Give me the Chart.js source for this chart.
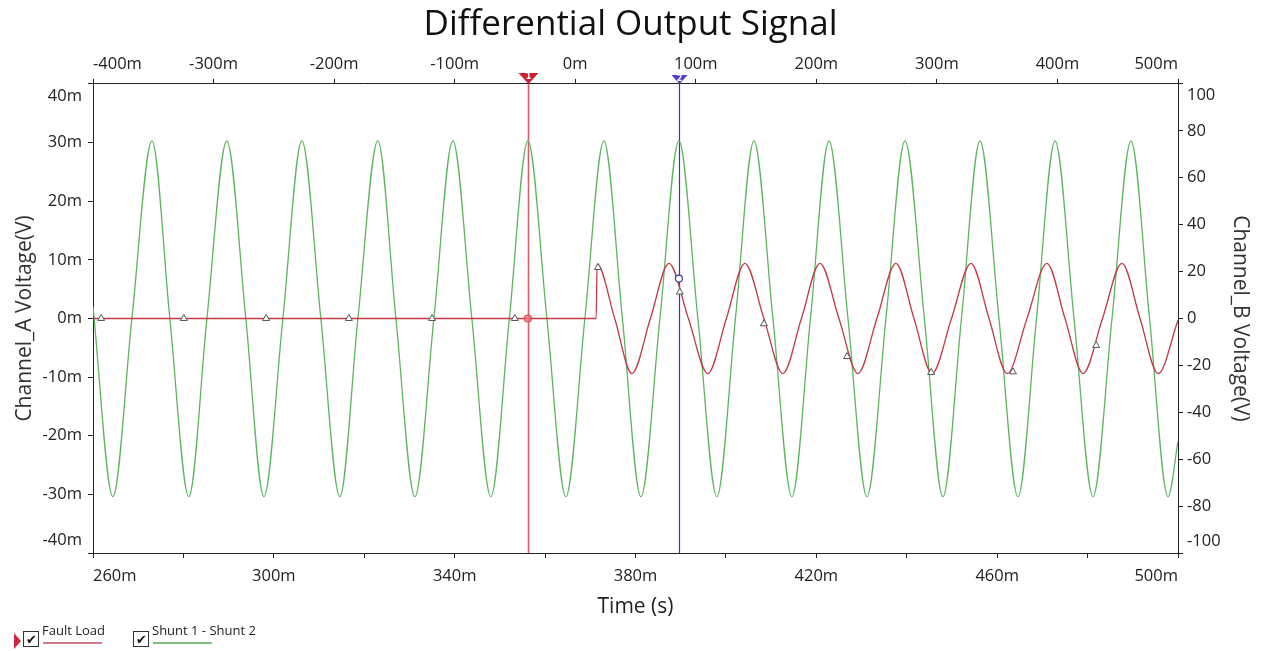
<!DOCTYPE html>
<html>
<head>
<meta charset="utf-8">
<title>Differential Output Signal</title>
<script src="https://cdn.jsdelivr.net/npm/chart.js@4.4.1/dist/chart.umd.min.js"></script>
<style>
  html, body { margin: 0; padding: 0; background: #fff; }
  #wrap { position: relative; width: 1261px; height: 651px; font-family: "Open Sans", sans-serif; }
  .lg-text { position: absolute; font-size: 13px; color: #222; line-height: 16px; white-space: nowrap; }
  .lg-box { position: absolute; width: 14px; height: 14px; border: 1px solid #333; background: #fff;
            font-size: 13px; line-height: 14px; text-align: center; color: #111; }
  .lg-line { position: absolute; height: 2px; }
</style>
</head>
<body>
<div id="wrap">
  <canvas id="scope"></canvas>
  <div style="position:absolute;left:14px;top:633px;width:0;height:0;border-top:8px solid transparent;border-bottom:8px solid transparent;border-left:7px solid #d0283c;"></div>
  <div class="lg-box" style="left:23px;top:631px;">✔</div>
  <div class="lg-text" style="left:42px;top:622px;">Fault Load</div>
  <div class="lg-line" style="left:43px;top:642px;width:59px;background:#d07a84;"></div>
  <div class="lg-box" style="left:133px;top:631px;">✔</div>
  <div class="lg-text" style="left:152px;top:622px;">Shunt 1 - Shunt 2</div>
  <div class="lg-line" style="left:153px;top:642px;width:59px;background:#7cc47c;"></div>
</div>
<script>
// Shunt 1 - Shunt 2 : peaks, troughs and zero crossings (time in ms, volts in mV)
const greenTimes = [260, 264.4, 268.6, 273.05, 277.0, 281.2, 285.2, 289.6, 293.8, 297.8, 302.0, 306.2,
  310.4, 314.6, 318.6, 323.0, 327.0, 331.2, 335.4, 339.6, 343.8, 348.0, 352.1, 356.2, 360.4, 364.6,
  368.8, 373.0, 377.1, 381.2, 385.4, 389.6, 393.8, 398.0, 402.1, 406.2, 410.4, 414.6, 418.7, 422.8,
  427.0, 431.2, 435.4, 439.6, 443.9, 448.0, 452.1, 456.2, 460.4, 464.6, 468.7, 472.8, 477.0, 481.2,
  485.4, 489.6, 493.7, 497.8, 500];
const greenValues = [2, -30.4, 0, 30.3, 0, -30.4, 0, 30.3, 0, -30.4, 0, 30.3,
  0, -30.4, 0, 30.3, 0, -30.4, 0, 30.3, 0, -30.4, 0, 30.3, 0, -30.4,
  0, 30.3, 0, -30.4, 0, 30.3, 0, -30.4, 0, 30.3, 0, -30.4, 0, 30.3,
  0, -30.4, 0, 30.3, 0, -30.4, 0, 30.3, 0, -30.4, 0, 30.3, 0, -30.4,
  0, 30.3, 0, -30.4, -21];

// Fault Load : flat until the fault, then a smaller 60 Hz wave
const redTimes = [260, 371.3, 371.5, 375.4, 379.2, 383.3, 387.4, 391.7, 396.0, 400.1, 404.2, 408.4,
  412.6, 416.7, 420.8, 425.0, 429.2, 433.4, 437.6, 441.6, 445.6, 449.9, 454.2, 458.2, 462.2, 466.6,
  471.0, 475.0, 479.0, 483.3, 487.6, 491.6, 495.6, 500];
const redValues = [0, 0, 9.3, 0, -9.4, 0, 9.4, 0, -9.4, 0, 9.4, 0,
  -9.4, 0, 9.4, 0, -9.4, 0, 9.4, 0, -9.4, 0, 9.4, 0, -9.4, 0,
  9.4, 0, -9.4, 0, 9.4, 0, -9.4, -0.3];

// sample markers drawn on the Fault Load trace
const markerTimes = [261.8, 280.1, 298.3, 316.6, 335.0, 353.3, 371.7, 389.8, 408.4, 426.8, 445.4, 463.5, 481.9];
const markerValues = [0, 0, 0, 0, 0, 0, 8.7, 4.5, -0.9, -6.5, -9.2, -9.1, -4.6];

// cursors
const cursorTimes = [356.2, 389.6];
const cursorNames = ['1', '2'];
const cursorColors = ['rgb(214,96,108)', 'rgb(60,56,176)'];
const cursorHeadColors = ['rgb(204,32,52)', 'rgb(76,60,205)'];
const readoutValues = [0, 6.8];

const pts = (xs, ys) => xs.map((t, i) => ({ x: t, y: ys[i] }));
const milli = v => Math.round(v) + 'm';

const tickFont = { family: 'Open Sans', size: 16.5 };
const titleFont = { family: 'Open Sans', size: 21 };

const cursorPlugin = {
    id: 'cursors',
    beforeDatasetsDraw(chart) {
        const { ctx, chartArea } = chart;
        const xs = chart.scales.x;
        ctx.save();
        cursorTimes.forEach((t, i) => {
            const px = Math.round(xs.getPixelForValue(t)) + 0.5;
            ctx.strokeStyle = cursorColors[i];
            ctx.lineWidth = i === 0 ? 1.6 : 1.2;
            ctx.beginPath();
            ctx.moveTo(px, chartArea.top);
            ctx.lineTo(px, chartArea.bottom);
            ctx.stroke();
        });
        ctx.restore();
    },
    afterDraw(chart) {
        const { ctx, chartArea } = chart;
        const xs = chart.scales.x;
        ctx.save();
        cursorTimes.forEach((t, i) => {
            const px = Math.round(xs.getPixelForValue(t)) + 0.5;
            const w = i === 0 ? 10 : 8;
            const h = i === 0 ? 11 : 9;
            ctx.fillStyle = cursorHeadColors[i];
            ctx.beginPath();
            ctx.moveTo(px - w, chartArea.top - h);
            ctx.lineTo(px + w, chartArea.top - h);
            ctx.lineTo(px, chartArea.top);
            ctx.closePath();
            ctx.fill();
            ctx.fillStyle = '#fff';
            ctx.font = 'bold 8px "DejaVu Sans"';
            ctx.textAlign = 'center';
            ctx.textBaseline = 'middle';
            ctx.fillText(cursorNames[i], px, chartArea.top - h + 4);
        });
        ctx.restore();
    }
};

new Chart(document.getElementById('scope'), {
    type: 'line',
    data: {
        datasets: [
            {
                label: 'readouts',
                data: pts(cursorTimes, readoutValues),
                showLine: false,
                pointStyle: 'circle',
                pointRadius: 3.5,
                pointBorderWidth: 1.2,
                pointBorderColor: ['rgb(220,70,80)', 'rgb(60,56,176)'],
                pointBackgroundColor: ['rgba(240,120,130,0.8)', '#fff']
            },
            {
                label: 'markers',
                data: pts(markerTimes, markerValues),
                showLine: false,
                pointStyle: 'triangle',
                pointRadius: 4,
                pointBorderWidth: 1,
                pointBorderColor: '#555',
                pointBackgroundColor: '#fff'
            },
            {
                label: 'Fault Load',
                data: pts(redTimes, redValues),
                borderColor: 'rgb(196,58,72)',
                borderWidth: 1.3,
                pointRadius: 0,
                cubicInterpolationMode: 'monotone'
            },
            {
                label: 'Shunt 1 - Shunt 2',
                data: pts(greenTimes, greenValues),
                borderColor: 'rgb(92,182,92)',
                borderWidth: 1.3,
                pointRadius: 0,
                cubicInterpolationMode: 'monotone'
            }
        ]
    },
    options: {
        responsive: true,
        maintainAspectRatio: false,
        animation: false,
        layout: { padding: 0 },
        plugins: {
            legend: { display: false },
            tooltip: { enabled: false },
            title: {
                display: true,
                text: 'Differential Output Signal',
                color: '#111',
                font: { family: 'Open Sans', size: 35, weight: 'normal', lineHeight: 0.97 },
                padding: { top: 8, bottom: 0 }
            }
        },
        scales: {
            x: {
                type: 'linear', position: 'bottom', min: 260, max: 500,
                afterFit: s => { s.height = 98; },
                border: { display: true, color: '#222', width: 1 },
                grid: { drawOnChartArea: false, drawTicks: true, tickLength: 5, tickColor: '#222' },
                ticks: {
                    stepSize: 20, align: 'inner', padding: 8, color: '#222', font: tickFont, maxRotation: 0,
                    autoSkip: false,
                    callback: v => ((Math.round(v) - 260) % 40 === 0 ? milli(v) : '')
                },
                title: { display: true, text: 'Time (s)', color: '#222', font: titleFont, padding: { bottom: 31 } }
            },
            xTop: {
                type: 'linear', position: 'top', min: -400, max: 500,
                afterFit: s => { s.height = 42; },
                border: { display: true, color: '#222', width: 1 },
                grid: { drawOnChartArea: false, drawTicks: true, tickLength: 5, tickColor: '#222' },
                ticks: { stepSize: 100, align: 'inner', padding: 5, color: '#222', font: tickFont, maxRotation: 0, autoSkip: false, callback: milli }
            },
            y: {
                type: 'linear', position: 'left', min: -40, max: 40,
                afterFit: s => { s.width = 93; },
                border: { display: true, color: '#222', width: 1 },
                grid: { drawOnChartArea: false, drawTicks: true, tickLength: 5, tickColor: '#222' },
                ticks: {
                    stepSize: 10, padding: 6, color: '#222', autoSkip: false,
                    font: { family: 'Open Sans', size: 16.5, lineHeight: 1.5 },
                    callback: v => (v === 40 ? ['', milli(v)] : v === -40 ? [milli(v), ''] : milli(v))
                },
                title: { display: true, text: 'Channel_A Voltage(V)', color: '#333', font: titleFont, padding: { top: 12 } }
            },
            y2: {
                type: 'linear', position: 'right', min: -100, max: 100,
                afterFit: s => { s.width = 83; },
                border: { display: true, color: '#222', width: 1 },
                grid: { drawOnChartArea: false, drawTicks: true, tickLength: 5, tickColor: '#222' },
                ticks: {
                    stepSize: 20, padding: 4, color: '#222', autoSkip: false,
                    font: { family: 'Open Sans', size: 16.5, lineHeight: 1.4 },
                    callback: v => (v === 100 ? ['', String(v)] : v === -100 ? [String(v), ''] : String(v))
                },
                title: { display: true, text: 'Channel_B Voltage(V)', color: '#333', font: titleFont, padding: { top: 8 } }
            }
        }
    },
    plugins: [cursorPlugin]
});
</script>
</body>
</html>
